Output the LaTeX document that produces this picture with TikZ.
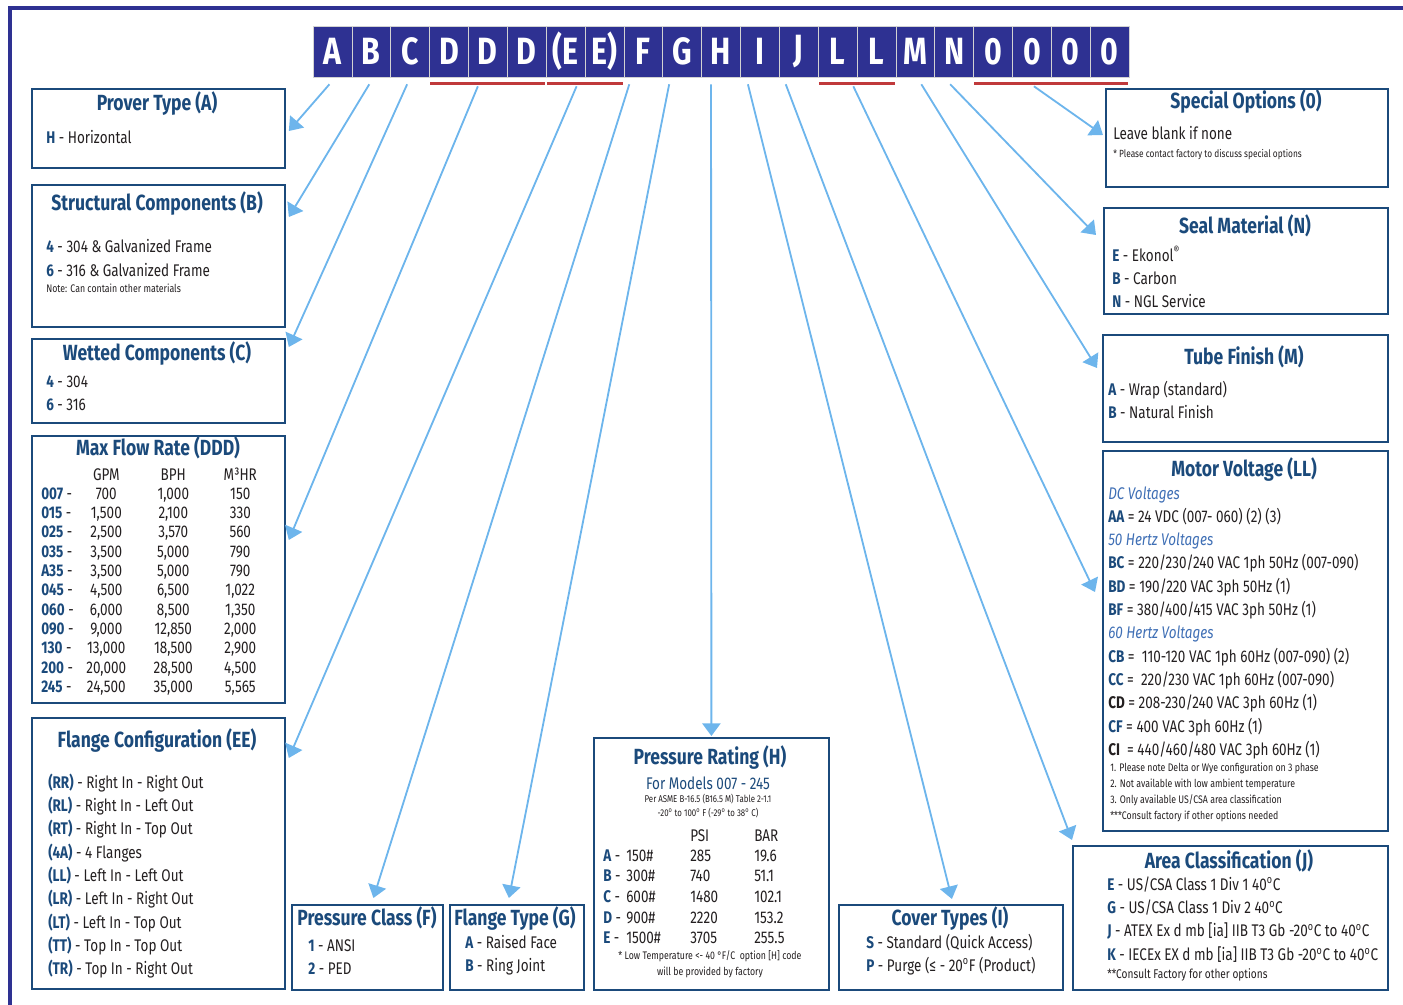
\documentclass[tikz,border=0pt]{standalone}
\usepackage{fontspec}
\setmainfont[FakeStretch=0.8]{Fira Sans}
\usetikzlibrary{arrows.meta,calc}
\definecolor{indigo}{HTML}{2E3192}
\definecolor{navy}{HTML}{1B4A7B}
\definecolor{ink}{HTML}{231F20}
\definecolor{sky}{HTML}{6DB5EC}
\definecolor{redline}{HTML}{C0393B}
\definecolor{subblue}{HTML}{3F6FB5}
\newlength\px
\setlength\px{0.025cm}
\newcommand\cd[1]{\textbf{\color{navy}#1}}
\newcommand\cg[1]{\textbf{#1}}
\newcommand\dg{\textsuperscript{o}}
\newcommand\sub{\itshape\color{subblue}}
\newcommand\ttl{\fontsize{15.6}{18}\selectfont\bfseries}
\newcommand\bdy{\fontsize{12}{14}\selectfont}
\begin{document}
\begin{tikzpicture}
	[x=0.025cm, y=-0.025cm,
	letter/.style={fill=indigo, draw=gray!35, line width=0.4pt, minimum width=38.86\px, minimum height=51\px, inner sep=0pt, text=white, font=\fontsize{27}{27}\selectfont\bfseries},
	box/.style={draw=navy, line width=1.3pt, anchor=north west, inner sep=0pt},
	headtxt/.style={anchor=base, inner sep=0pt, font=\ttl, text=navy},
	bodytxt/.style={anchor=base west, inner sep=0pt, font=\bdy, text=ink},
	smalltxt/.style={anchor=base west, inner sep=0pt, font=\fontsize{7.8}{9}\selectfont, text=ink},
	arr/.style={draw=sky, line width=1.3pt, -{Triangle[width=13pt,length=9pt]}},
	underline/.style={draw=redline, line width=2pt}]
	\useasboundingbox (0,0) rectangle (1403,1005);
	\draw [indigo, line width=2.2pt] (1403,8) -- (10,8) -- (10,1005);
	% model code
	\foreach \ch [count=\i] in {A,B,C,D,D,D,{(E},{E)},F,G,H,I,J,L,L,M,N,0,0,0,0}
		\node [letter] (l\i) at ({313+38.86*(\i-0.5)},51.5) {\ch};
	\draw [underline] ($(l4.south west)+(1,6)$) -- ($(l6.south east)+(-1,6)$);
	\draw [underline] ($(l7.south west)+(1,6)$) -- ($(l8.south east)+(-1,6)$);
	\draw [underline] ($(l14.south west)+(1,6)$) -- ($(l15.south east)+(-1,6)$);
	\draw [underline] ($(l18.south west)+(1,6)$) -- ($(l21.south east)+(-1,6)$);
	% boxes
	\node [box, minimum width=253\px, minimum height=79\px] (prover) at (31,88) {};
	\node [box, minimum width=253\px, minimum height=142\px] (struct) at (31,184) {};
	\node [box, minimum width=253\px, minimum height=84\px] (wetted) at (31,338) {};
	\node [box, minimum width=253\px, minimum height=267\px] (flow) at (31,435) {};
	\node [box, minimum width=253\px, minimum height=271\px] (flange) at (31,717) {};
	\node [box, minimum width=151\px, minimum height=85\px] (pclass) at (291,904) {};
	\node [box, minimum width=134\px, minimum height=85\px] (ftype) at (449,904) {};
	\node [box, minimum width=235\px, minimum height=252\px] (prating) at (593,737) {};
	\node [box, minimum width=224\px, minimum height=85\px] (cover) at (838,904) {};
	\node [box, minimum width=315\px, minimum height=144\px] (area) at (1072,845) {};
	\node [box, minimum width=282\px, minimum height=98\px] (special) at (1105,88) {};
	\node [box, minimum width=284\px, minimum height=106\px] (seal) at (1103,207) {};
	\node [box, minimum width=285\px, minimum height=107\px] (tube) at (1102,334) {};
	\node [box, minimum width=285\px, minimum height=380\px] (motor) at (1102,450) {};
	% prover type
	\node [headtxt] (proverT) at (157,111) {Prover Type (A)};
	\node [bodytxt] (prover1) at (46,144) {\cd{H} - Horizontal};
	% structural
	\node [headtxt] (structT) at (157,210) {Structural Components (B)};
	\node [bodytxt] (struct1) at (46,252) {\cd{4} - 304 \& Galvanized Frame};
	\node [bodytxt] (struct2) at (46,276) {\cd{6} - 316 \& Galvanized Frame};
	\node [smalltxt] (struct3) at (46,292) {Note: Can contain other materials};
	% wetted
	\node [headtxt] (wettedT) at (157,360) {Wetted Components (C)};
	\node [bodytxt] (wetted1) at (46,387) {\cd{4} - 304};
	\node [bodytxt] (wetted2) at (46,410) {\cd{6} - 316};
	% flow rate
	\node [headtxt] (flowT) at (158,455) {Max Flow Rate (DDD)};
	\node [bodytxt] (flowH) at (41,480) {\makebox[35\px]{}\makebox[60\px]{GPM}\makebox[74\px]{BPH}\makebox[60\px]{M³HR}};
	\foreach \c/\g/\b/\m [count=\k] in {007/700/{1,000}/150, 015/{1,500}/{2,100}/330, 025/{2,500}/{3,570}/560,
		035/{3,500}/{5,000}/790, A35/{3,500}/{5,000}/790, 045/{4,500}/{6,500}/{1,022}, 060/{6,000}/{8,500}/{1,350},
		090/{9,000}/{12,850}/{2,000}, 130/{13,000}/{18,500}/{2,900}, 200/{20,000}/{28,500}/{4,500}, 245/{24,500}/{35,000}/{5,565}}
		\node [bodytxt] (flow\k) at (41,{499+19.35*(\k-1)}) {\makebox[35\px][l]{\cd{\c} -}\makebox[60\px]{\g}\makebox[74\px]{\b}\makebox[60\px]{\m}};
	% flange configuration
	\node [headtxt] (flangeT) at (157,747) {Flange Configuration (EE)};
	\foreach \t [count=\k] in {\cd{(RR)} - Right In - Right Out, \cd{(RL)} - Right In - Left Out, \cd{(RT)} - Right In - Top Out,
		\cd{(4A)} - 4 Flanges, \cd{(LL)} - Left In - Left Out, \cd{(LR)} - Left In - Right Out,
		\cd{(LT)} - Left In - Top Out, \cd{(TT)} - Top In - Top Out, \cd{(TR)} - Top In - Right Out}
		\node [bodytxt] (flange\k) at (48,{788+23.35*(\k-1)}) {\t};
	% pressure class
	\node [headtxt] (pclassT) at (367,925) {Pressure Class (F)};
	\node [bodytxt] (pclass1) at (308,951) {\cd{1} - ANSI};
	\node [bodytxt] (pclass2) at (308,974) {\cd{2} - PED};
	% flange type
	\node [headtxt] (ftypeT) at (515,925) {Flange Type (G)};
	\node [bodytxt] (ftype1) at (465,948) {\cd{A} - Raised Face};
	\node [bodytxt] (ftype2) at (465,971) {\cd{B} - Ring Joint};
	% pressure rating
	\node [headtxt] (pratingT) at (710,764) {Pressure Rating (H)};
	\node [anchor=base, inner sep=0pt, font=\bdy, text=navy] (pratingM) at (708,789) {For Models 007 - 245};
	\node [anchor=base, inner sep=0pt, font=\fontsize{7}{8}\selectfont, text=ink] (pratingA) at (708,802.5) {Per ASME B-16.5 (B16.5 M) Table 2-1.1};
	\node [anchor=base, inner sep=0pt, font=\fontsize{7}{8}\selectfont, text=ink] (pratingB) at (708,816.5) {-20\dg{} to 100\dg{} F (-29\dg{} to 38\dg{} C)};
	\node [bodytxt] (pratingH) at (603,841) {\makebox[87\px][l]{}\makebox[64\px][l]{PSI}BAR};
	\foreach \c/\p/\s/\b [count=\k] in {A/150\#/285/19.6, B/300\#/740/51.1, C/600\#/1480/102.1, D/900\#/2220/153.2, E/1500\#/3705/255.5}
		\node [bodytxt] (prating\k) at (603,{861+20.7*(\k-1)}) {\makebox[23\px][l]{\cd{\c} -}\makebox[64\px][l]{\p}\makebox[64\px][l]{\s}\b};
	\node [anchor=base, inner sep=0pt, font=\fontsize{7.8}{9}\selectfont, text=ink] (pratingN1) at (710,959) {* Low Temperature <- 40 °F/C\ \ option [H] code};
	\node [anchor=base, inner sep=0pt, font=\fontsize{7.8}{9}\selectfont, text=ink] (pratingN2) at (710,975) {will be provided by factory};
	% cover types
	\node [headtxt] (coverT) at (950,925) {Cover Types (I)};
	\node [bodytxt] (cover1) at (866,948) {\cd{S} - Standard (Quick Access)};
	\node [bodytxt] (cover2) at (866,971) {\cd{P} - Purge (≤ - 20\dg F (Product)};
	% area classification
	\node [headtxt] (areaT) at (1229,868) {Area Classification (J)};
	\foreach \t [count=\k] in {\cd{E} - US/CSA Class 1 Div 1 40\dg C, \cd{G} - US/CSA Class 1 Div 2 40\dg C,
		\cd{J} - ATEX Ex d mb [ia] IIB T3 Gb -20\dg C to 40\dg C, \cd{K} - IECEx EX d mb [ia] IIB T3 Gb -20\dg C to 40\dg C}
		\node [bodytxt] (area\k) at (1107,{890+23.4*(\k-1)}) {\t};
	\node [anchor=base west, inner sep=0pt, font=\fontsize{9}{10}\selectfont, text=ink] (areaN) at (1107,978.5) {**Consult Factory for other options};
	% special options
	\node [headtxt] (specialT) at (1246,109) {Special Options (0)};
	\node [bodytxt] (special1) at (1113,140) {Leave blank if none};
	\node [anchor=base west, inner sep=0pt, font=\fontsize{7.4}{8}\selectfont, text=ink] (special2) at (1113,157) {* Please contact factory to discuss special options};
	% seal material
	\node [headtxt] (sealT) at (1245,233) {Seal Material (N)};
	\foreach \t [count=\k] in {\cd{E} - Ekonol\textsuperscript{®}, \cd{B} - Carbon, \cd{N} - NGL Service}
		\node [bodytxt] (seal\k) at (1112,{261+23*(\k-1)}) {\t};
	% tube finish
	\node [headtxt] (tubeT) at (1244,364) {Tube Finish (M)};
	\node [bodytxt] (tube1) at (1108,395) {\cd{A} - Wrap (standard)};
	\node [bodytxt] (tube2) at (1108,418) {\cd{B} - Natural Finish};
	% motor voltage
	\node [headtxt] (motorT) at (1244,476) {Motor Voltage (LL)};
	\foreach \t [count=\k] in {{\sub DC Voltages}, \cd{AA} = 24 VDC (007- 060) (2) (3), {\sub 50 Hertz Voltages},
		\cd{BC} = 220/230/240 VAC 1ph 50Hz (007-090), \cd{BD} = 190/220 VAC 3ph 50Hz (1),
		\cd{BF} = 380/400/415 VAC 3ph 50Hz (1), {\sub 60 Hertz Voltages},
		\cd{CB} =\ \ 110-120 VAC 1ph 60Hz (007-090) (2), \cd{CC} =\ \ 220/230 VAC 1ph 60Hz (007-090),
		\cg{CD} = 208-230/240 VAC 3ph 60Hz (1), \cd{CF} = 400 VAC 3ph 60Hz (1), \cg{CI}\ \ = 440/460/480 VAC 3ph 60Hz (1)}
		\node [bodytxt] (motor\k) at (1108,{499+23.3*(\k-1)}) {\t};
	\foreach \t [count=\k] in {1. Please note Delta or Wye configuration on 3 phase, 2. Not available with low ambient temperature,
		3. Only available US/CSA area classification, ***Consult factory if other options needed}
		\node [smalltxt] (motorN\k) at (1110,{771+16*(\k-1)}) {\t};
	% connectors
	\draw [arr] ($(l1.south)+(-3,7)$) -- ($(prover.north east)+(3,43)$);
	\draw [arr] ($(l2.south)+(-2,7)$) -- ($(struct.north east)+(3,33)$);
	\draw [arr] ($(l3.south)+(-3,7)$) -- ($(wetted.north east)+(3,9)$);
	\draw [arr] ($(l5.south)+(-10,9)$) -- ($(flow.north east)+(3,105)$);
	\draw [arr] ($(l7.south)+(11,9)$) -- ($(flange.north east)+(3,41)$);
	\draw [arr] ($(l9.south)+(-14,7)$) -- ($(pclass.north)+(6,-6)$);
	\draw [arr] ($(l10.south)+(-13,7)$) -- ($(ftype.north)+(-8,-6)$);
	\draw [arr] ($(l11.south)+(-10,7)$) -- ($(prating.north)+(0,-1)$);
	\draw [arr] ($(l12.south)+(-12,7)$) -- ($(cover.north)+(1,-5)$);
	\draw [arr] ($(l13.south)+(-13,7)$) -- ($(area.north west)+(0,-5)$);
	\draw [arr] ($(l14.south east)+(-4,9)$) -- ($(motor.north west)+(-7,142)$);
	\draw [arr] ($(l16.south)+(6,7)$) -- ($(tube.north west)+(-5,34)$);
	\draw [arr] ($(l17.south)+(-4,7)$) -- ($(seal.north west)+(-7,28)$);
	\draw [arr] ($(l19.south)+(2,9)$) -- ($(special.north west)+(-2,47)$);
\end{tikzpicture}
\end{document}
